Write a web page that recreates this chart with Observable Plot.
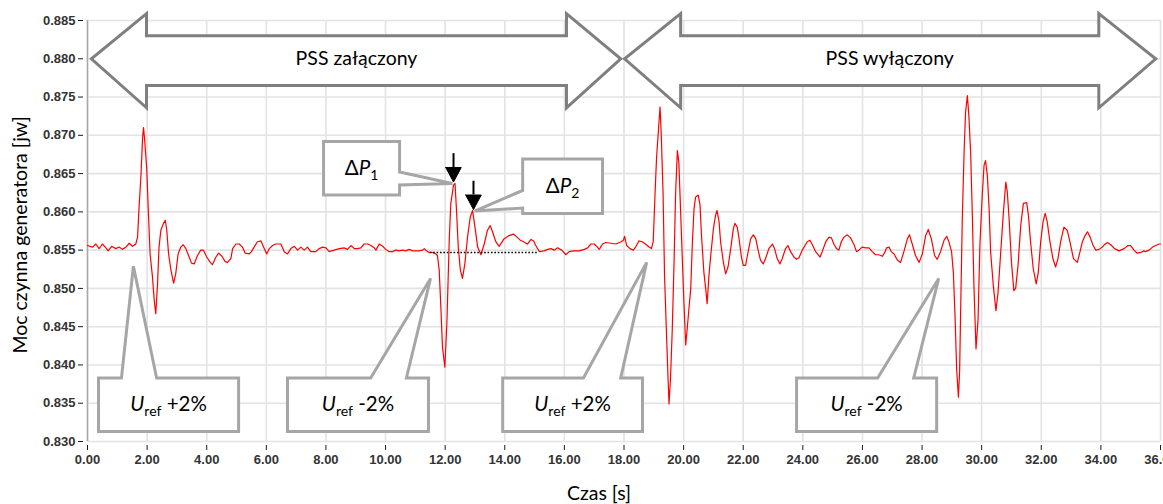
<!DOCTYPE html>
<html><head><meta charset="utf-8">
<script src="https://cdn.jsdelivr.net/npm/d3@7"></script>
<script src="https://cdn.jsdelivr.net/npm/@observablehq/plot@0.6"></script>
<style>html,body{margin:0;padding:0;background:#fff;} svg{display:block}
g[aria-label="x-axis tick label"] text, g[aria-label="y-axis tick label"] text {font-family: 'Liberation Sans', Arial, sans-serif; font-weight: bold; fill: #333;}
</style>
</head><body><div id="chart"></div>
<script>
// --- dane: czas [s], moc czynna [jw] ---
const przebieg1 = [[0,0.8556],[0.17,0.8554],[0.28,0.8558],[0.39,0.8552],[0.50,0.8558],[0.62,0.8553],[0.69,0.8549],[0.81,0.8555],[0.95,0.8552],[1.06,0.8554],[1.17,0.8551],[1.29,0.8554],[1.40,0.8559],[1.51,0.8555],[1.62,0.8558],[1.68,0.8567],[1.73,0.8606],[1.79,0.8645],[1.85,0.8698],[1.88,0.8710],[1.92,0.8693],[1.99,0.8654],[2.04,0.8602],[2.10,0.8545],[2.18,0.8515],[2.24,0.8484],[2.29,0.8467],[2.35,0.8506],[2.40,0.8554],[2.46,0.8576],[2.55,0.8585],[2.61,0.8589],[2.66,0.8576],[2.72,0.8545],[2.80,0.8524],[2.89,0.8507],[2.96,0.8519],[3.04,0.8545],[3.13,0.8554],[3.21,0.8557],[3.30,0.8552],[3.39,0.8543],[3.49,0.8533],[3.58,0.8532],[3.69,0.8543],[3.80,0.8550],[3.89,0.8550],[4.00,0.8541],[4.12,0.8534],[4.19,0.8531],[4.31,0.8541],[4.40,0.8546],[4.51,0.8542],[4.62,0.8535],[4.70,0.8534],[4.81,0.8539],[4.87,0.8552],[4.98,0.8558],[5.09,0.8558],[5.20,0.8554],[5.29,0.8546],[5.43,0.8545],[5.50,0.8548],[5.59,0.8554],[5.70,0.8561],[5.82,0.8562],[5.93,0.8552],[6.01,0.8545],[6.10,0.8552],[6.21,0.8556],[6.32,0.8558],[6.49,0.8558],[6.60,0.8548],[6.71,0.8545],[6.82,0.8552],[6.94,0.8555],[7.05,0.8550],[7.16,0.8554],[7.27,0.8550],[7.38,0.8554],[7.49,0.8548],[7.66,0.8548],[7.77,0.8552],[7.89,0.8554],[8.00,0.8553],[8.11,0.8548],[8.28,0.8550],[8.45,0.8552],[8.61,0.8553],[8.72,0.8551],[8.84,0.8556],[8.95,0.8552]];
const przebieg2 = [[9.06,0.8552],[9.17,0.8553],[9.28,0.8558],[9.40,0.8558],[9.51,0.8556],[9.62,0.8553],[9.68,0.8550],[9.73,0.8554],[9.79,0.8558],[9.90,0.8555],[10.01,0.8551],[10.12,0.8548],[10.23,0.8548],[10.35,0.8550],[10.46,0.8549],[10.57,0.8550],[10.68,0.8549],[10.79,0.8551],[10.91,0.8549],[11.02,0.8549],[11.13,0.8549],[11.24,0.8550],[11.30,0.8552],[11.35,0.8550],[11.46,0.8547],[11.58,0.8547],[11.69,0.8545],[11.74,0.8543],[11.80,0.8524],[11.86,0.8471],[11.91,0.8423],[11.99,0.8397],[12.06,0.8458],[12.14,0.8567],[12.19,0.8611],[12.28,0.8635],[12.33,0.8637],[12.38,0.8602],[12.44,0.8554],[12.51,0.8524],[12.58,0.8513],[12.66,0.8532],[12.75,0.8567],[12.84,0.8593],[12.92,0.8602],[13.00,0.8580],[13.09,0.8554],[13.20,0.8544],[13.31,0.8558],[13.42,0.8576],[13.51,0.8582],[13.59,0.8574],[13.70,0.8561],[13.81,0.8555],[13.98,0.8565],[14.15,0.8569],[14.29,0.8571],[14.41,0.8567],[14.52,0.8563],[14.63,0.8561],[14.76,0.8558],[14.88,0.8564],[14.97,0.8562],[15.04,0.8556],[15.16,0.8548],[15.32,0.8549],[15.44,0.8551],[15.55,0.8552],[15.66,0.8550],[15.77,0.8553],[15.91,0.8550],[16.05,0.8544],[16.16,0.8548],[16.33,0.8549],[16.50,0.8549],[16.67,0.8551],[16.78,0.8553],[16.89,0.8558],[17.00,0.8558],[17.11,0.8554],[17.17,0.8551],[17.28,0.8558],[17.39,0.8560],[17.56,0.8559],[17.73,0.8558],[17.90,0.8561]];
const przebieg3 = [[17.98,0.8563],[18.02,0.8568],[18.09,0.8556],[18.20,0.8552],[18.31,0.8550],[18.39,0.8554],[18.50,0.8562],[18.61,0.8561],[18.72,0.8558],[18.84,0.8554],[18.92,0.8552],[18.98,0.8561],[19.04,0.8622],[19.09,0.8669],[19.15,0.8704],[19.21,0.8737],[19.25,0.8700],[19.31,0.8626],[19.36,0.8517],[19.42,0.8447],[19.47,0.8391],[19.51,0.8349],[19.56,0.8382],[19.62,0.8447],[19.68,0.8535],[19.73,0.8622],[19.79,0.8680],[19.84,0.8665],[19.90,0.8600],[19.96,0.8535],[20.01,0.8482],[20.07,0.8426],[20.12,0.8447],[20.18,0.8474],[20.24,0.8500],[20.29,0.8556],[20.35,0.8604],[20.40,0.8619],[20.49,0.8622],[20.55,0.8609],[20.60,0.8569],[20.68,0.8521],[20.74,0.8500],[20.79,0.8480],[20.85,0.8517],[20.91,0.8543],[21.00,0.8578],[21.07,0.8595],[21.12,0.8602],[21.19,0.8587],[21.24,0.8561],[21.33,0.8535],[21.41,0.8519],[21.49,0.8528],[21.58,0.8552],[21.67,0.8578],[21.72,0.8585],[21.80,0.8580],[21.86,0.8565],[21.94,0.8541],[22.00,0.8530],[22.08,0.8530],[22.14,0.8543],[22.25,0.8565],[22.34,0.8570],[22.42,0.8565],[22.51,0.8548],[22.58,0.8537],[22.67,0.8532],[22.75,0.8539],[22.86,0.8552],[22.98,0.8558],[23.05,0.8552],[23.14,0.8539],[23.23,0.8532],[23.31,0.8539],[23.42,0.8552],[23.50,0.8556],[23.59,0.8548],[23.70,0.8541],[23.79,0.8538],[23.87,0.8540],[23.98,0.8550],[24.15,0.8561],[24.24,0.8563],[24.32,0.8557],[24.43,0.8548],[24.58,0.8541],[24.65,0.8548],[24.77,0.8561],[24.88,0.8567],[24.96,0.8566],[25.04,0.8558],[25.13,0.8552],[25.21,0.8550],[25.29,0.8561],[25.38,0.8567],[25.49,0.8570],[25.60,0.8566],[25.72,0.8557],[25.80,0.8548],[25.88,0.8550],[25.99,0.8554],[26.11,0.8553],[26.22,0.8553],[26.33,0.8548],[26.44,0.8544],[26.55,0.8544],[26.67,0.8542],[26.75,0.8547],[26.81,0.8553],[26.89,0.8554],[26.97,0.8548]];
const przebieg4 = [[27.06,0.8545],[27.17,0.8537],[27.28,0.8534],[27.39,0.8548],[27.51,0.8565],[27.58,0.8570],[27.67,0.8558],[27.78,0.8543],[27.90,0.8534],[28.01,0.8545],[28.12,0.8569],[28.21,0.8577],[28.31,0.8565],[28.42,0.8543],[28.51,0.8538],[28.62,0.8548],[28.74,0.8563],[28.83,0.8568],[28.90,0.8561],[28.99,0.8548],[29.05,0.8521],[29.11,0.8460],[29.16,0.8395],[29.22,0.8358],[29.26,0.8391],[29.29,0.8460],[29.35,0.8591],[29.41,0.8678],[29.46,0.8730],[29.52,0.8752],[29.57,0.8726],[29.63,0.8678],[29.69,0.8591],[29.74,0.8504],[29.81,0.8421],[29.88,0.8460],[29.94,0.8556],[30.02,0.8622],[30.08,0.8661],[30.13,0.8667],[30.19,0.8648],[30.25,0.8604],[30.30,0.8548],[30.39,0.8504],[30.48,0.8471],[30.55,0.8495],[30.64,0.8548],[30.73,0.8600],[30.81,0.8639],[30.86,0.8626],[30.92,0.8591],[31.00,0.8534],[31.08,0.8497],[31.14,0.8500],[31.22,0.8530],[31.31,0.8582],[31.40,0.8611],[31.51,0.8612],[31.57,0.8595],[31.64,0.8561],[31.73,0.8526],[31.83,0.8506],[31.90,0.8521],[31.98,0.8561],[32.06,0.8587],[32.13,0.8598],[32.20,0.8587],[32.29,0.8561],[32.39,0.8539],[32.48,0.8528],[32.56,0.8539],[32.65,0.8561],[32.76,0.8580],[32.87,0.8576],[32.96,0.8561],[33.08,0.8539],[33.21,0.8534],[33.30,0.8548],[33.38,0.8561],[33.47,0.8569],[33.55,0.8574],[33.64,0.8567],[33.74,0.8556],[33.83,0.8550],[33.94,0.8551],[34.05,0.8554],[34.11,0.8557],[34.22,0.8560],[34.33,0.8557],[34.46,0.8552],[34.61,0.8549],[34.78,0.8552],[34.91,0.8556],[35.00,0.8556],[35.11,0.8550],[35.22,0.8546],[35.34,0.8547],[35.43,0.8549],[35.50,0.8548],[35.62,0.8550],[35.73,0.8554],[35.84,0.8556],[35.95,0.8558],[36.00,0.8558]];

const xTicks = [0,2,4,6,8,10,12,14,16,18,20,22,24,26,28,30,32,34,36];
const yTicks = [0.830,0.835,0.840,0.845,0.850,0.855,0.860,0.865,0.870,0.875,0.880,0.885];
const tytulX = "Czas [s]";
const tytulY = "Moc czynna generatora [jw]";

// --- adnotacje (w jednostkach danych) ---
const strzalkiPSS = [
  {tekst: "PSS załączony", t0: 0.13, h0: 1.98, h1: 16.07, t1: 17.89},
  {tekst: "PSS wyłączony", t0: 18.02, h0: 19.90, h1: 33.93, t1: 35.84}
];
const pssSrodek = 0.8800, pssTrzonGora = 0.8830, pssTrzonDol = 0.8765, pssGrotGora = 0.8859, pssGrotDol = 0.8736;

const dymkiUref = [
  {tekst: "U_ref +2%", x0: 0.37, x1: 5.07, b0: 1.14, b1: 2.32, tt: 1.54, tp: 0.8529},
  {tekst: "U_ref -2%", x0: 6.71, x1: 11.44, b0: 9.50, b1: 10.70, tt: 11.51, tp: 0.8513},
  {tekst: "U_ref +2%", x0: 13.93, x1: 18.62, b0: 16.64, b1: 17.89, tt: 18.76, tp: 0.8534},
  {tekst: "U_ref -2%", x0: 23.79, x1: 28.49, b0: 26.51, b1: 27.72, tt: 28.56, tp: 0.8513}
];
const dymekDol = 0.8313, dymekGora = 0.8383;

const dymkiDP = [
  {tekst: "ΔP_1", x0: 7.92, x1: 10.47, y0: 0.8622, y1: 0.8692, strona: "prawa", pA: 0.8652, pB: 0.8635, tt: 12.24, tp: 0.8637},
  {tekst: "ΔP_2", x0: 14.60, x1: 17.28, y0: 0.8598, y1: 0.8669, strona: "lewa", pA: 0.8628, pB: 0.8605, tt: 12.99, tp: 0.8601}
];
const strzalkiDP = [
  {t: 12.28, gora: 0.8676, grot: 0.8658, koniec: 0.8639},
  {t: 12.95, gora: 0.8640, grot: 0.8622, koniec: 0.8603}
];
const grotPolSzer = 0.26;
const liniaOdniesienia = [{t0: 11.5, t1: 15.1, p: 0.8547}];

// --- budowa tabel ---
const punkty = [...przebieg1, ...przebieg2, ...przebieg3, ...przebieg4].map(([t, p]) => ({t, p}));

const polyPSS = strzalkiPSS.flatMap((a, i) => {
  const m = (a.h0 + a.h1) / 2;
  return [[m, pssTrzonGora],[a.h1, pssTrzonGora],[a.h1, pssGrotGora],[a.t1, pssSrodek],[a.h1, pssGrotDol],[a.h1, pssTrzonDol],
          [a.h0, pssTrzonDol],[a.h0, pssGrotDol],[a.t0, pssSrodek],[a.h0, pssGrotGora],[a.h0, pssTrzonGora],[m, pssTrzonGora]]
    .map(([x, y]) => ({x, y, id: "pss" + i}));
});
const polyUref = dymkiUref.flatMap((d, i) => {
  const m = (d.x0 + d.x1) / 2;
  return [[m, dymekDol],[d.x0, dymekDol],[d.x0, dymekGora],[d.b0, dymekGora],[d.tt, d.tp],[d.b1, dymekGora],[d.x1, dymekGora],[d.x1, dymekDol],[m, dymekDol]]
    .map(([x, y]) => ({x, y, id: "u" + i}));
});
const polyDP = dymkiDP.flatMap((d, i) => {
  const m = (d.x0 + d.x1) / 2;
  const pts = d.strona === "prawa"
    ? [[m, d.y1],[d.x1, d.y1],[d.x1, d.pA],[d.tt, d.tp],[d.x1, d.pB],[d.x1, d.y0],[d.x0, d.y0],[d.x0, d.y1],[m, d.y1]]
    : [[m, d.y1],[d.x1, d.y1],[d.x1, d.y0],[d.x0, d.y0],[d.x0, d.pB],[d.tt, d.tp],[d.x0, d.pA],[d.x0, d.y1],[m, d.y1]];
  return pts.map(([x, y]) => ({x, y, id: "dp" + i}));
});
const polyGroty = strzalkiDP.flatMap((s, i) =>
  [[s.t - grotPolSzer, s.grot],[s.t + grotPolSzer, s.grot],[s.t, s.koniec],[s.t - grotPolSzer, s.grot]].map(([x, y]) => ({x, y, id: "g" + i})));

const fontAdn = "Lato, 'Open Sans', sans-serif";

const chart = Plot.plot({
  width: 1163, height: 504,
  marginTop: 20, marginRight: 3, marginBottom: 59, marginLeft: 83,
  insetLeft: 4, insetBottom: 4,
  style: {fontFamily: "'Liberation Sans', Arial, sans-serif", fontSize: "13px", color: "#1a1a1a", background: "#fff", overflow: "visible"},
  x: {domain: [0, 36], ticks: xTicks, tickFormat: d3.format(".2f"), tickSize: 5, tickPadding: 4, label: null},
  y: {domain: [0.830, 0.885], ticks: yTicks, tickFormat: d3.format(".3f"), tickSize: 5, tickPadding: 3, label: null},
  marks: [
    Plot.ruleX(xTicks, {y1: 0.830, y2: 0.885, stroke: "#e3e3e3", strokeWidth: 1.6}),
    Plot.ruleY(yTicks, {x1: 0, x2: 36, stroke: "#e3e3e3", strokeWidth: 1.6}),
    Plot.ruleX([0], {y1: 0.830, y2: 0.885, stroke: "#a8a8a8", strokeWidth: 1.5}),
    Plot.line(punkty, {x: "t", y: "p", stroke: "#ff0000", strokeWidth: 1.2, strokeLinejoin: "round"}),
    Plot.ruleY(liniaOdniesienia, {x1: "t0", x2: "t1", y: "p", stroke: "#000", strokeWidth: 1.6, strokeDasharray: "1.6,1.8"}),
    Plot.line(polyPSS, {x: "x", y: "y", z: "id", fill: "white", stroke: "#7f7f7f", strokeWidth: 3, strokeLinejoin: "miter", strokeMiterlimit: 10, strokeLinecap: "butt"}),
    Plot.line(polyUref, {x: "x", y: "y", z: "id", fill: "white", stroke: "#a6a6a6", strokeWidth: 3, strokeLinejoin: "miter", strokeMiterlimit: 2.5, strokeLinecap: "butt"}),
    Plot.line(polyDP, {x: "x", y: "y", z: "id", fill: "white", stroke: "#a6a6a6", strokeWidth: 3, strokeLinejoin: "miter", strokeMiterlimit: 2.5, strokeLinecap: "butt"}),
    Plot.ruleX(strzalkiDP, {x: "t", y1: "gora", y2: "grot", stroke: "#000", strokeWidth: 2}),
    Plot.line(polyGroty, {x: "x", y: "y", z: "id", fill: "#000", stroke: "#000", strokeWidth: 1, strokeLinejoin: "miter"}),
    Plot.text(strzalkiPSS, {x: d => (d.h0 + d.h1) / 2, y: () => pssSrodek, text: "tekst", fontSize: 19.5, fontFamily: fontAdn, fill: "#000"}),
    Plot.text(dymkiUref, {x: d => (d.x0 + d.x1) / 2, y: () => (dymekDol + dymekGora) / 2, text: "tekst", fontSize: 20.5, fontFamily: fontAdn, fill: "#000"}),
    Plot.text(dymkiDP, {x: d => (d.x0 + d.x1) / 2, y: d => (d.y0 + d.y1) / 2, text: "tekst", fontSize: 20.5, fontFamily: fontAdn, fill: "#000"}),
    Plot.text([tytulX], {text: d => d, frameAnchor: "bottom", textAnchor: "middle", lineAnchor: "middle", dx: -23, dy: 48, fontSize: 19.5, fontFamily: fontAdn, fill: "#000"}),
    Plot.text([tytulY], {text: d => d, frameAnchor: "left", textAnchor: "middle", lineAnchor: "middle", rotate: -90, dx: -63, dy: 2, fontSize: 19.5, fontFamily: fontAdn, fill: "#000"})
  ]
});

// indeksy dolne i kursywa
d3.select(chart).selectAll("text").each(function () {
  const el = d3.select(this);
  if (el.selectAll("tspan").size()) return;
  const s = el.text();
  let m;
  if ((m = s.match(/^U_ref (.*)$/))) {
    el.text(null);
    el.append("tspan").attr("font-style", "italic").text("U");
    el.append("tspan").attr("font-size", 14).attr("dy", 5).text("ref");
    el.append("tspan").attr("dy", -5).text("\u00a0" + m[1]);
  } else if ((m = s.match(/^ΔP_(\d)$/))) {
    el.text(null);
    el.append("tspan").text("Δ");
    el.append("tspan").attr("font-style", "italic").text("P");
    el.append("tspan").attr("font-size", 14).attr("dy", 5).text(m[1]);
  }
});

document.getElementById("chart").appendChild(chart);
</script>
</body></html>
